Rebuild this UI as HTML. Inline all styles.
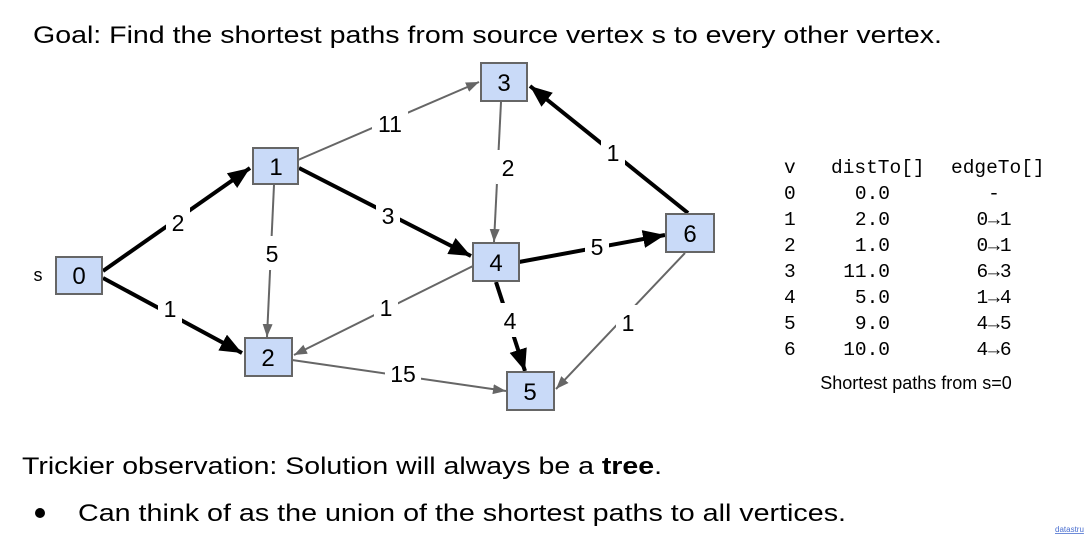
<!DOCTYPE html>
<html><head><meta charset="utf-8"><style>
html,body{margin:0;padding:0;background:#fff;width:1088px;height:544px;overflow:hidden}
svg{display:block}
.n{fill:#c9daf8;stroke:#666;stroke-width:2}
.nl{font-family:"Liberation Sans",Arial,sans-serif;font-size:24px;text-anchor:middle;fill:#000}
.el{font-family:"Liberation Sans",Arial,sans-serif;font-size:23px;text-anchor:middle;fill:#000}
.t{font-family:"Liberation Mono",monospace;font-size:19.5px;fill:#000}
.b{font-family:"Liberation Sans",Arial,sans-serif;font-size:24px;fill:#000}
</style></head><body>
<svg width="1088" height="544" viewBox="0 0 1088 544">
<defs>
<marker id="ak" markerUnits="userSpaceOnUse" markerWidth="24" markerHeight="20" refX="22" refY="9" orient="auto"><path d="M0,0 L22,9 L0,18 z" fill="#000"/></marker>
<marker id="ag" markerUnits="userSpaceOnUse" markerWidth="14" markerHeight="12" refX="13" refY="5" orient="auto"><path d="M0,0 L13,5 L0,10 z" fill="#666"/></marker>
</defs>
<text class="b" x="33" y="43" textLength="909" lengthAdjust="spacingAndGlyphs">Goal: Find the shortest paths from source vertex s to every other vertex.</text>

<g stroke="#666" stroke-width="2" fill="none">
<line x1="298" y1="160" x2="479" y2="82" marker-end="url(#ag)"/>
<line x1="274" y1="185" x2="267" y2="337" marker-end="url(#ag)"/>
<line x1="501" y1="102" x2="494" y2="242" marker-end="url(#ag)"/>
<line x1="473" y1="266" x2="294" y2="355" marker-end="url(#ag)"/>
<line x1="685" y1="253" x2="556" y2="389" marker-end="url(#ag)"/>
<line x1="292" y1="360" x2="506" y2="391" marker-end="url(#ag)"/>
</g>
<g stroke="#000" stroke-width="4" fill="none">
<line x1="103" y1="271" x2="250" y2="168" marker-end="url(#ak)"/>
<line x1="103" y1="278" x2="242" y2="353" marker-end="url(#ak)"/>
<line x1="299" y1="168" x2="471" y2="256" marker-end="url(#ak)"/>
<line x1="688" y1="213" x2="530" y2="86" marker-end="url(#ak)"/>
<line x1="519" y1="262" x2="665" y2="235" marker-end="url(#ak)"/>
<line x1="496" y1="282" x2="525" y2="371" marker-end="url(#ak)"/>
</g>
<g fill="#fff">
<rect x="166" y="205" width="24" height="34"/>
<rect x="158" y="291" width="24" height="34"/>
<rect x="372" y="106" width="36" height="34"/>
<rect x="260" y="236" width="24" height="34"/>
<rect x="376" y="198" width="24" height="34"/>
<rect x="496" y="150" width="24" height="34"/>
<rect x="601" y="135" width="24" height="34"/>
<rect x="585" y="229" width="24" height="34"/>
<rect x="374" y="290" width="24" height="34"/>
<rect x="498" y="303" width="24" height="34"/>
<rect x="616" y="305" width="24" height="34"/>
<rect x="385" y="356" width="36" height="34"/>
</g>
<g class="el">
<text x="178" y="231">2</text>
<text x="170" y="317">1</text>
<text x="390" y="132">11</text>
<text x="272" y="262">5</text>
<text x="388" y="224">3</text>
<text x="508" y="176">2</text>
<text x="613" y="161">1</text>
<text x="597" y="255">5</text>
<text x="386" y="316">1</text>
<text x="510" y="329">4</text>
<text x="628" y="331">1</text>
<text x="403" y="382">15</text>
</g>
<g>
<rect class="n" x="56" y="257" width="46" height="37"/>
<rect class="n" x="253" y="148" width="45" height="36"/>
<rect class="n" x="481" y="63" width="46" height="38"/>
<rect class="n" x="473" y="243" width="46" height="38"/>
<rect class="n" x="245" y="338" width="47" height="38"/>
<rect class="n" x="507" y="372" width="47" height="38"/>
<rect class="n" x="666" y="214" width="48" height="38"/>
</g>
<g class="nl">
<text x="79" y="284">0</text>
<text x="276" y="175">1</text>
<text x="504" y="91">3</text>
<text x="496" y="271">4</text>
<text x="268" y="366">2</text>
<text x="530" y="400">5</text>
<text x="690" y="242">6</text>
</g>
<text x="38" y="281" font-family="Liberation Sans,Arial,sans-serif" font-size="18" text-anchor="middle">s</text>

<g class="t">
<text x="784" y="173">v</text><text x="831" y="173">distTo[]</text><text x="951" y="173">edgeTo[]</text>
</g>
<g class="t" text-anchor="start">
<text x="784" y="199">0</text>
<text x="784" y="225">1</text>
<text x="784" y="251">2</text>
<text x="784" y="277">3</text>
<text x="784" y="303">4</text>
<text x="784" y="329">5</text>
<text x="784" y="355">6</text>
</g>
<g class="t" text-anchor="end">
<text x="890" y="199">0.0</text>
<text x="890" y="225">2.0</text>
<text x="890" y="251">1.0</text>
<text x="890" y="277">11.0</text>
<text x="890" y="303">5.0</text>
<text x="890" y="329">9.0</text>
<text x="890" y="355">10.0</text>
</g>
<g class="t" text-anchor="middle">
<text x="994" y="199">-</text>
<text x="994" y="225">0→1</text>
<text x="994" y="251">0→1</text>
<text x="994" y="277">6→3</text>
<text x="994" y="303">1→4</text>
<text x="994" y="329">4→5</text>
<text x="994" y="355">4→6</text>
</g>
<text x="916" y="389" font-family="Liberation Sans,Arial,sans-serif" font-size="18" text-anchor="middle">Shortest paths from s=0</text>

<text class="b" x="22" y="474" textLength="640" lengthAdjust="spacingAndGlyphs">Trickier observation: Solution will always be a <tspan font-weight="bold">tree</tspan>.</text>
<circle cx="40" cy="513" r="5" fill="#000"/>
<text class="b" x="78" y="521" textLength="768" lengthAdjust="spacingAndGlyphs">Can think of as the union of the shortest paths to all vertices.</text>
<text x="1055" y="532" font-family="Liberation Sans,sans-serif" font-size="8" fill="#4a6fd0" text-decoration="underline">datastru</text>
</svg>
</body></html>
